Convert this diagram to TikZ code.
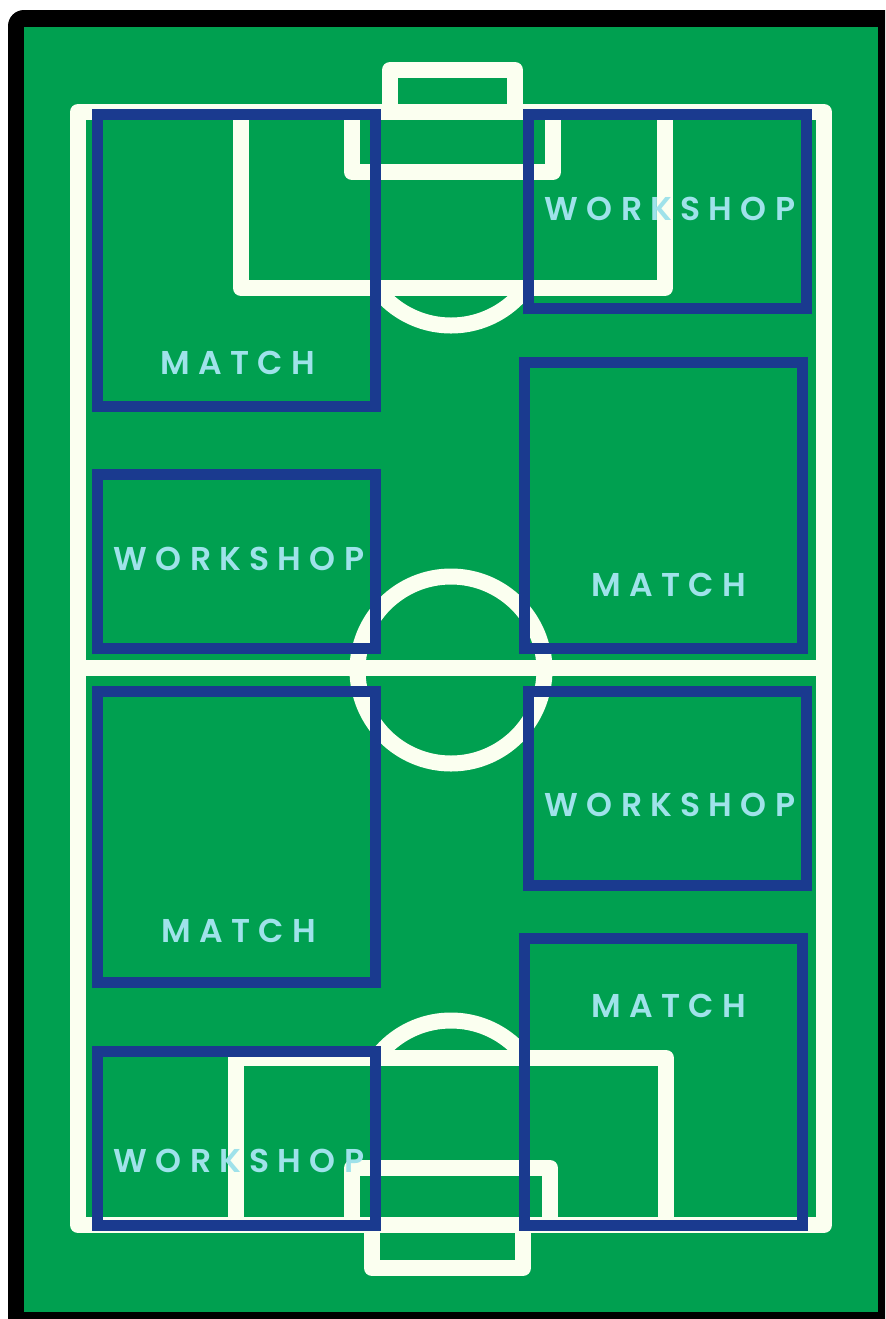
\documentclass[tikz,border=0pt]{standalone}
\usepackage{xcolor}
\usepackage{fontspec}
\usepackage{tikz}
\usetikzlibrary{calc}

\newfontfamily\zonefont[LetterSpace=25, BoldFont={Poppins SemiBold}]{Poppins}

\definecolor{pitchgreen}{HTML}{00A050}
\definecolor{chalk}{HTML}{FBFFF0}
\definecolor{zoneblue}{HTML}{1A3A8F}
\definecolor{zonetext}{HTML}{9FE2EA}

\begin{document}
\begin{tikzpicture}[
  x=0.5pt, y=-0.5pt,
  pitchline/.style={draw=chalk, line width=8pt, line join=round},
  zone/.style={draw=zoneblue, line width=5.5pt},
  zonelabel/.style={inner sep=0pt, text=zonetext,
                    font=\zonefont\bfseries\fontsize{16.5}{18}\selectfont},
]
\useasboundingbox (0,0) rectangle (885,1319);
\clip (0,0) rectangle (885,1319);

%% ── Cadre et pelouse ────────────────────────────────────────────────────
\fill[black, rounded corners=8] (8,10) rectangle (905,1340);
\fill[pitchgreen] (24,27) rectangle (878,1312);

%% ── Lignes du terrain ───────────────────────────────────────────────────
\draw[pitchline] (78,112) rectangle (824,1225);
\draw[pitchline] (78,668) -- (824,668);
\draw[pitchline] (451,670) circle[radius=93.5];

% moitié haute
\draw[pitchline] (390,112) -- (390,70) -- (515,70) -- (515,112);
\draw[pitchline] (352,112) -- (352,172) -- (553,172) -- (553,112);
\draw[pitchline] (241,112) -- (241,288) -- (665,288) -- (665,112);
\begin{scope}
  \clip (300,288) rectangle (600,360);
  \draw[pitchline] (451,232) circle[radius=93.5];
\end{scope}

% moitié basse
\draw[pitchline] (372,1225) -- (372,1268) -- (523,1268) -- (523,1225);
\draw[pitchline] (352,1225) -- (352,1168) -- (550,1168) -- (550,1225);
\draw[pitchline] (236,1225) -- (236,1058) -- (666,1058) -- (666,1225);
\begin{scope}
  \clip (300,980) rectangle (600,1058);
  \draw[pitchline] (451,1114) circle[radius=93.5];
\end{scope}

%% ── Zones ───────────────────────────────────────────────────────────────
\draw[zone] (97.5,114) rectangle (375.5,406.5);
\draw[zone] (528,114) rectangle (806.5,308);
\draw[zone] (97.5,474) rectangle (375.5,648);
\draw[zone] (524,362) rectangle (802.5,648);
\draw[zone] (97.5,691) rectangle (375.5,982.5);
\draw[zone] (528,691) rectangle (806.5,885.5);
\draw[zone] (524,938) rectangle (802.5,1225);
\draw[zone] (97.5,1051) rectangle (375.5,1225);

%% ── Étiquettes ──────────────────────────────────────────────────────────
\node[zonelabel] (match1) at (238,363) {MATCH};
\node[zonelabel] (work1)  at (670,209) {WORKSHOP};
\node[zonelabel] (work2)  at (239,559) {WORKSHOP};
\node[zonelabel] (match2) at (669,585) {MATCH};
\node[zonelabel] (work3)  at (670,805) {WORKSHOP};
\node[zonelabel] (match3) at (239,931) {MATCH};
\node[zonelabel] (match4) at (669,1006) {MATCH};
\node[zonelabel] (work4)  at (239,1161) {WORKSHOP};

\end{tikzpicture}
\end{document}
